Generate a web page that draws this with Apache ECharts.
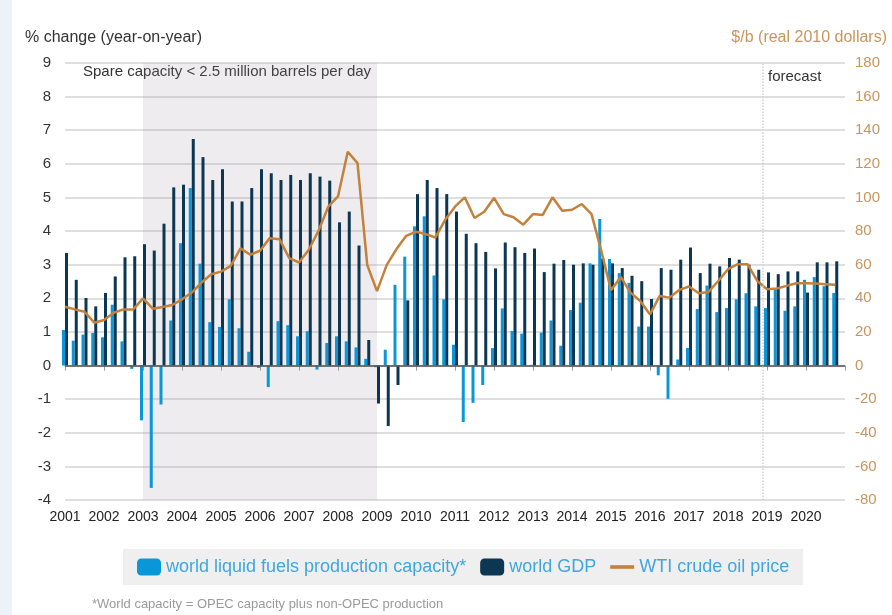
<!DOCTYPE html>
<html>
<head>
<meta charset="utf-8">
<script src="https://cdn.jsdelivr.net/npm/echarts@6/dist/echarts.min.js"></script>
<style>
  html, body { margin: 0; padding: 0; background: #fff; }
  #chart { width: 892px; height: 615px; }
</style>
</head>
<body>
<div id="chart"></div>
<script>
// quarterly data, 2001Q1 .. 2020Q4
var startYear = 2001;
var years = [2001, 2002, 2003, 2004, 2005, 2006, 2007, 2008, 2009, 2010,
             2011, 2012, 2013, 2014, 2015, 2016, 2017, 2018, 2019, 2020];

// world liquid fuels production capacity, % change y/y
var capacity = [
  1.06, 0.74, 0.92, 0.97,   0.84, 1.81, 0.72, -0.10,
  -1.63, -3.64, -1.16, 1.34,  3.64, 5.28, 3.03, 1.29,
  1.15, 1.97, 1.11, 0.41,   -0.07, -0.64, 1.32, 1.20,
  0.87, 1.02, -0.12, 0.67,  0.87, 0.72, 0.54, 0.20,
  -0.05, 0.47, 2.40, 3.24,  4.14, 4.44, 2.68, 1.97,
  0.62, -1.68, -1.11, -0.58, 0.52, 1.70, 1.03, 0.95,
  0.02, 0.98, 1.34, 0.59,   1.65, 1.87, 3.04, 4.36,
  3.17, 2.75, 2.46, 1.16,   1.16, -0.29, -0.99, 0.18,
  0.52, 1.68, 2.38, 1.59,   1.71, 1.97, 2.15, 1.76,
  1.71, 2.26, 1.63, 1.76,   2.55, 2.63, 2.36, 2.16
];

// world GDP, % change y/y
var gdp = [
  3.35, 2.55, 2.01, 1.76,   2.16, 2.65, 3.22, 3.25,
  3.61, 3.42, 4.22, 5.30,   5.38, 6.74, 6.20, 5.52,
  5.84, 4.88, 4.88, 5.28,   5.84, 5.72, 5.52, 5.67,
  5.52, 5.72, 5.62, 5.50,   4.26, 4.58, 3.57, 0.76,
  -1.13, -1.80, -0.58, 1.94, 5.10, 5.52, 5.28, 5.10,
  4.58, 3.92, 3.64, 3.38,   2.89, 3.66, 3.52, 3.35,
  3.48, 2.78, 3.03, 3.14,   3.00, 3.04, 3.00, 3.18,
  3.04, 2.90, 2.67, 2.51,   1.98, 2.90, 2.85, 3.15,
  3.51, 2.75, 3.03, 2.95,   3.20, 3.15, 3.00, 2.85,
  2.77, 2.72, 2.80, 2.80,   2.17, 3.07, 3.07, 3.10
];

// WTI crude oil price, $/b (real 2010 dollars)
var wti = [
  35.0, 33.4, 32.0, 25.5,   27.1, 31.4, 33.4, 33.4,
  40.0, 33.8, 34.8, 36.0,   39.4, 43.4, 49.4, 54.3,
  55.9, 59.3, 69.7, 65.9,   68.3, 75.8, 75.2, 63.9,
  61.3, 68.9, 80.2, 94.5,   100.6, 127.2, 120.4, 59.8,
  44.3, 59.9, 69.3, 77.2,   79.6, 78.2, 76.2, 86.8,
  94.5, 100.1, 87.8, 91.5,  99.7, 90.1, 88.2, 83.8,
  90.1, 89.6, 100.1, 92.1,  92.7, 96.1, 90.1, 68.3,
  44.8, 52.7, 43.4, 38.4,   30.4, 41.4, 40.4, 45.0,
  47.0, 43.0, 43.8, 50.3,   57.3, 60.3, 60.3, 50.3,
  45.4, 45.8, 47.4, 49.0,   49.0, 48.8, 48.4, 48.0
];

var spareStart = 2003, spareEnd = 2009;
var forecastStart = 2018.875;

var seriesNames = ['world liquid fuels production capacity*', 'world GDP', 'WTI crude oil price'];

function toPairs(arr) {
  return arr.map(function (v, i) { return [startYear + i / 4, v]; });
}

var chart = echarts.init(document.getElementById('chart'));

var option = {
  animation: false,
  textStyle: { fontFamily: 'Liberation Sans, Arial, sans-serif' },
  grid: { left: 65, right: 47, top: 63, bottom: 115 },
  legend: {
    left: 123,
    top: 549,
    padding: [9, 14],
    itemGap: 14,
    itemWidth: 24,
    itemHeight: 17,
    backgroundColor: '#efefef',
    textStyle: { color: '#3fa7df', fontSize: 18 },
    data: [
      { name: seriesNames[0], icon: 'roundRect' },
      { name: seriesNames[1], icon: 'roundRect' },
      { name: seriesNames[2], icon: 'path://M0,0 L20,0 L20,3 L0,3 Z', itemStyle: { color: '#c4813c' } }
    ]
  },
  graphic: [
    { type: 'rect', left: 0, top: 0, shape: { width: 12, height: 615 }, style: { fill: '#edf1f8' } },
    { type: 'text', left: 25, top: 30, style: { text: '% change (year-on-year)', fill: '#333', font: '16px Liberation Sans, Arial, sans-serif' } },
    { type: 'text', right: 5, top: 30, style: { text: '$/b (real 2010 dollars)', fill: '#c9955c', font: '16px Liberation Sans, Arial, sans-serif' } },
    { type: 'text', left: 83, top: 64, style: { text: 'Spare capacity < 2.5 million barrels per day', fill: '#333', font: '15px Liberation Sans, Arial, sans-serif' } },
    { type: 'text', left: 768, top: 69, style: { text: 'forecast', fill: '#333', font: '15px Liberation Sans, Arial, sans-serif' } },
    { type: 'text', left: 92, top: 598, style: { text: '*World capacity = OPEC capacity plus non-OPEC production', fill: '#9a9a9a', font: '13px Liberation Sans, Arial, sans-serif' } }
  ],
  xAxis: {
    type: 'value',
    min: years[0],
    max: years[years.length - 1] + 1,
    interval: 1,
    axisLine: { lineStyle: { color: '#cfcfcf', width: 1.5 } },
    axisTick: { length: 5, lineStyle: { color: '#999' } },
    splitLine: { show: false },
    axisLabel: {
      color: '#222',
      fontSize: 14,
      margin: 10,
      formatter: function (v) { return years.indexOf(v) >= 0 ? String(v) : ''; }
    }
  },
  yAxis: [
    {
      type: 'value', min: -4, max: 9, interval: 1,
      axisLine: { show: false }, axisTick: { show: false },
      axisLabel: { color: '#333', fontSize: 15, margin: 14 },
      splitLine: { lineStyle: { color: '#d4d4d4', width: 1.5 } }
    },
    {
      type: 'value', min: -80, max: 180, interval: 20, position: 'right',
      axisLine: { show: false }, axisTick: { show: false },
      axisLabel: { color: '#c9955c', fontSize: 15, margin: 10 },
      splitLine: { show: false }
    }
  ],
  series: [
    {
      name: seriesNames[0],
      type: 'bar',
      barWidth: 3,
      barGap: '0%',
      itemStyle: { color: '#0a97d9' },
      data: toPairs(capacity),
      markArea: {
        silent: true,
        itemStyle: { color: 'rgba(150,135,150,0.16)' },
        data: [[{ xAxis: spareStart }, { xAxis: spareEnd }]]
      },
      markLine: {
        silent: true,
        symbol: 'none',
        label: { show: false },
        lineStyle: { color: '#555', width: 1.5, type: 'solid' },
        data: [{ yAxis: 0 }]
      }
    },
    {
      name: seriesNames[1],
      type: 'bar',
      barWidth: 3,
      barGap: '0%',
      itemStyle: { color: '#0c3651' },
      data: toPairs(gdp)
    },
    {
      name: seriesNames[2],
      type: 'line',
      yAxisIndex: 1,
      symbol: 'none',
      lineStyle: { color: '#c4813c', width: 2.5 },
      itemStyle: { color: '#c4813c' },
      data: toPairs(wti),
      markLine: {
        silent: true,
        symbol: 'none',
        label: { show: false },
        lineStyle: { color: '#cfcfcf', width: 1.5, type: 'dotted' },
        data: [{ xAxis: forecastStart }]
      }
    }
  ]
};

chart.setOption(option);
</script>
</body>
</html>
